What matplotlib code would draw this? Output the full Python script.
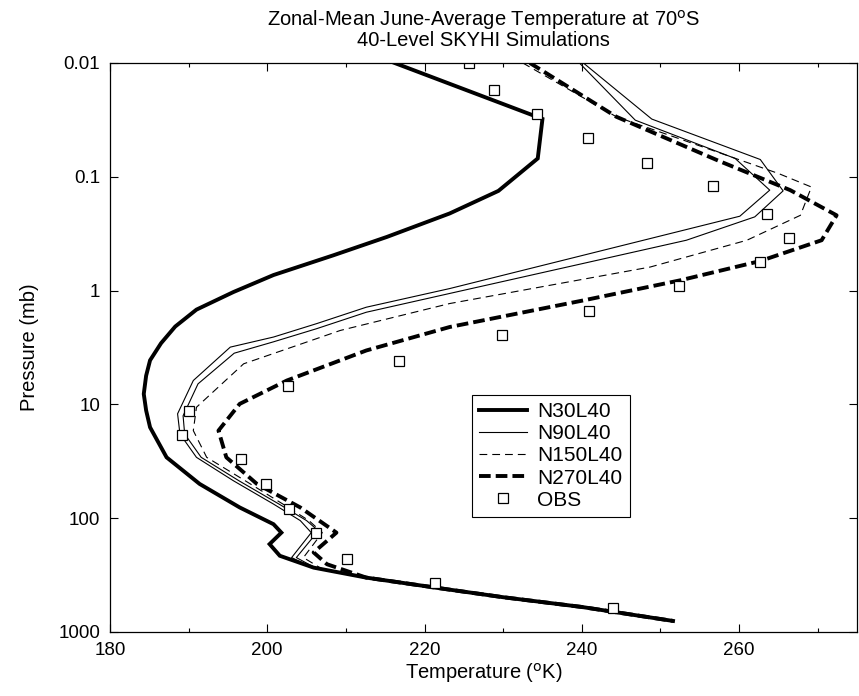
import matplotlib
matplotlib.use('Agg')
import matplotlib.pyplot as plt
from matplotlib.ticker import FixedLocator, FixedFormatter, MultipleLocator, NullLocator

plt.rcParams['font.family'] = ['Liberation Sans', 'DejaVu Sans']

# common lower part of all model profiles (T in K, p in mb)
bottom_t = [212.6, 222.8, 230.0, 240.0, 251.6]
bottom_p = [333, 421, 495, 603, 800]

# N30L40
n30_t = [216.2, 235.0, 234.4, 229.4, 223.2, 215.2, 208.4, 200.8, 195.7, 191.0, 188.3,
         186.5, 185.1, 184.6, 184.3, 184.6, 185.1, 187.2, 191.4, 196.5, 200.8, 201.8,
         200.3, 201.6, 205.9]
n30_p = [0.01, 0.031, 0.069, 0.133, 0.21, 0.338, 0.49, 0.73, 1.03, 1.47, 2.07,
         2.9, 4.1, 5.6, 8.1, 11.3, 15.9, 29.2, 50, 80.5, 113, 134,
         169, 214, 272]

# N90L40
n90_t = [239.7, 246.8, 259.5, 263.9, 260.1, 223.2, 212.6, 206.3, 200.8, 195.3, 190.6,
         188.6, 188.9, 191.0, 195.7, 200.8, 204.2, 205.6, 203.1, 205.9]
n90_p = [0.01, 0.0318, 0.069, 0.131, 0.222, 0.96, 1.40, 1.95, 2.56, 3.14, 6.17,
         12.1, 18.2, 29.2, 46.9, 75.2, 105, 134, 222, 275]

# second thin solid profile (not in legend)
alt_t = [240.2, 248.9, 262.7, 265.6, 262.0, 253.3, 223.2, 212.6, 206.3, 200.8, 195.8,
         191.2, 189.3, 189.5, 191.6, 196.4, 201.5, 205.0, 206.5, 203.7, 206.2]
alt_p = [0.01, 0.0311, 0.0705, 0.133, 0.225, 0.361, 1.06, 1.55, 2.16, 2.82, 3.55,
         6.6, 12.6, 18.2, 29.2, 46.9, 75.2, 105, 129, 222, 275]

# N150L40
n150_t = [232.5, 244.4, 252.9, 265.0, 269.2, 267.8, 261.0, 248.7, 223.2, 209.3, 197.0,
          191.0, 190.6, 192.3, 197.2, 202.0, 205.3, 207.0, 204.6, 206.8]
n150_p = [0.01, 0.0297, 0.0476, 0.0935, 0.123, 0.218, 0.361, 0.621, 1.30, 2.24, 4.40,
          10.6, 17.0, 29.2, 46.9, 75.2, 105, 134, 222, 275]

# N270L40
n270_t = [233.4, 244.4, 257.2, 266.5, 272.4, 270.5, 262.7, 252.5, 240.2, 223.2, 212.6,
          202.5, 196.5, 193.8, 194.8, 198.7, 204.2, 208.8, 205.9, 207.6]
n270_p = [0.01, 0.0297, 0.0714, 0.131, 0.218, 0.361, 0.55, 0.813, 1.22, 2.09, 3.36,
          6.17, 9.9, 17.0, 29.2, 50.1, 80.5, 134, 200, 254]

# observations
obs_t = [225.6, 228.8, 234.3, 240.8, 248.3, 256.7, 263.5, 266.4, 262.6, 252.4, 240.9,
         229.9, 216.8, 202.6, 190.1, 189.1, 196.7, 199.9, 202.8, 206.2, 210.1, 221.3, 244.0]
obs_p = [0.01, 0.0171, 0.0281, 0.046, 0.076, 0.121, 0.213, 0.345, 0.561, 0.918, 1.51,
         2.48, 4.18, 6.93, 11.4, 18.6, 30.2, 50, 83.2, 136, 229, 372, 610]

yticks = [0.01, 0.1, 1, 10, 100, 1000]
ytick_labels = ['0.01', '0.1', '1', '10', '100', '1000']

fig = plt.figure(figsize=(8.59, 6.96), dpi=100)
ax = fig.add_axes([0.128, 0.092, 0.8697, 0.8175])

ax.plot(n30_t + bottom_t, n30_p + bottom_p, color='black', lw=2.8,
        solid_joinstyle='miter', label='N30L40')
ax.plot(n90_t + bottom_t, n90_p + bottom_p, color='black', lw=0.8, label='N90L40')
ax.plot(alt_t + bottom_t, alt_p + bottom_p, color='black', lw=0.8)
ax.plot(n150_t + bottom_t, n150_p + bottom_p, color='black', lw=0.8,
        dashes=(7, 4.5), label='N150L40')
ax.plot(n270_t + bottom_t, n270_p + bottom_p, color='black', lw=2.8,
        dashes=(3.0, 1.3), label='N270L40')
ax.plot(obs_t, obs_p, linestyle='none', marker='s', markersize=7.5,
        markerfacecolor='white', markeredgecolor='black', markeredgewidth=0.9,
        label='OBS')

ax.set_yscale('log')
ax.set_ylim(1000, 0.01)
ax.set_xlim(180, 275)
ax.yaxis.set_major_locator(FixedLocator(yticks))
ax.yaxis.set_major_formatter(FixedFormatter(ytick_labels))
ax.yaxis.set_minor_locator(NullLocator())
ax.xaxis.set_major_locator(MultipleLocator(20))
ax.xaxis.set_minor_locator(MultipleLocator(10))
ax.tick_params(which='both', direction='in', top=True, right=True, labelsize=13.5)
ax.tick_params(which='major', length=6, width=0.8)
ax.tick_params(which='minor', length=3, width=0.8)
ax.tick_params(axis='y', pad=7)
ax.tick_params(axis='x', pad=7)
for s in ax.spines.values():
    s.set_linewidth(0.9)

ax.set_xlabel(r'Temperature ($^{\rm o}$K)', fontsize=14.5, labelpad=2)
ax.set_ylabel('Pressure (mb)', fontsize=14.5, labelpad=14)
ax.set_title('Zonal-Mean June-Average Temperature at 70$^{\\rm o}$S\n40-Level SKYHI Simulations',
             fontsize=14.5, linespacing=0.95, pad=12)

leg = ax.legend(loc='lower left', bbox_to_anchor=(0.484, 0.202), borderaxespad=0,
                fontsize=15, frameon=True, fancybox=False, edgecolor='black',
                framealpha=1, handlelength=2.3, handletextpad=0.5, labelspacing=0.15,
                borderpad=0.35, markerfirst=True)
leg.get_frame().set_linewidth(0.8)

fig.savefig('out.png', dpi=100)
